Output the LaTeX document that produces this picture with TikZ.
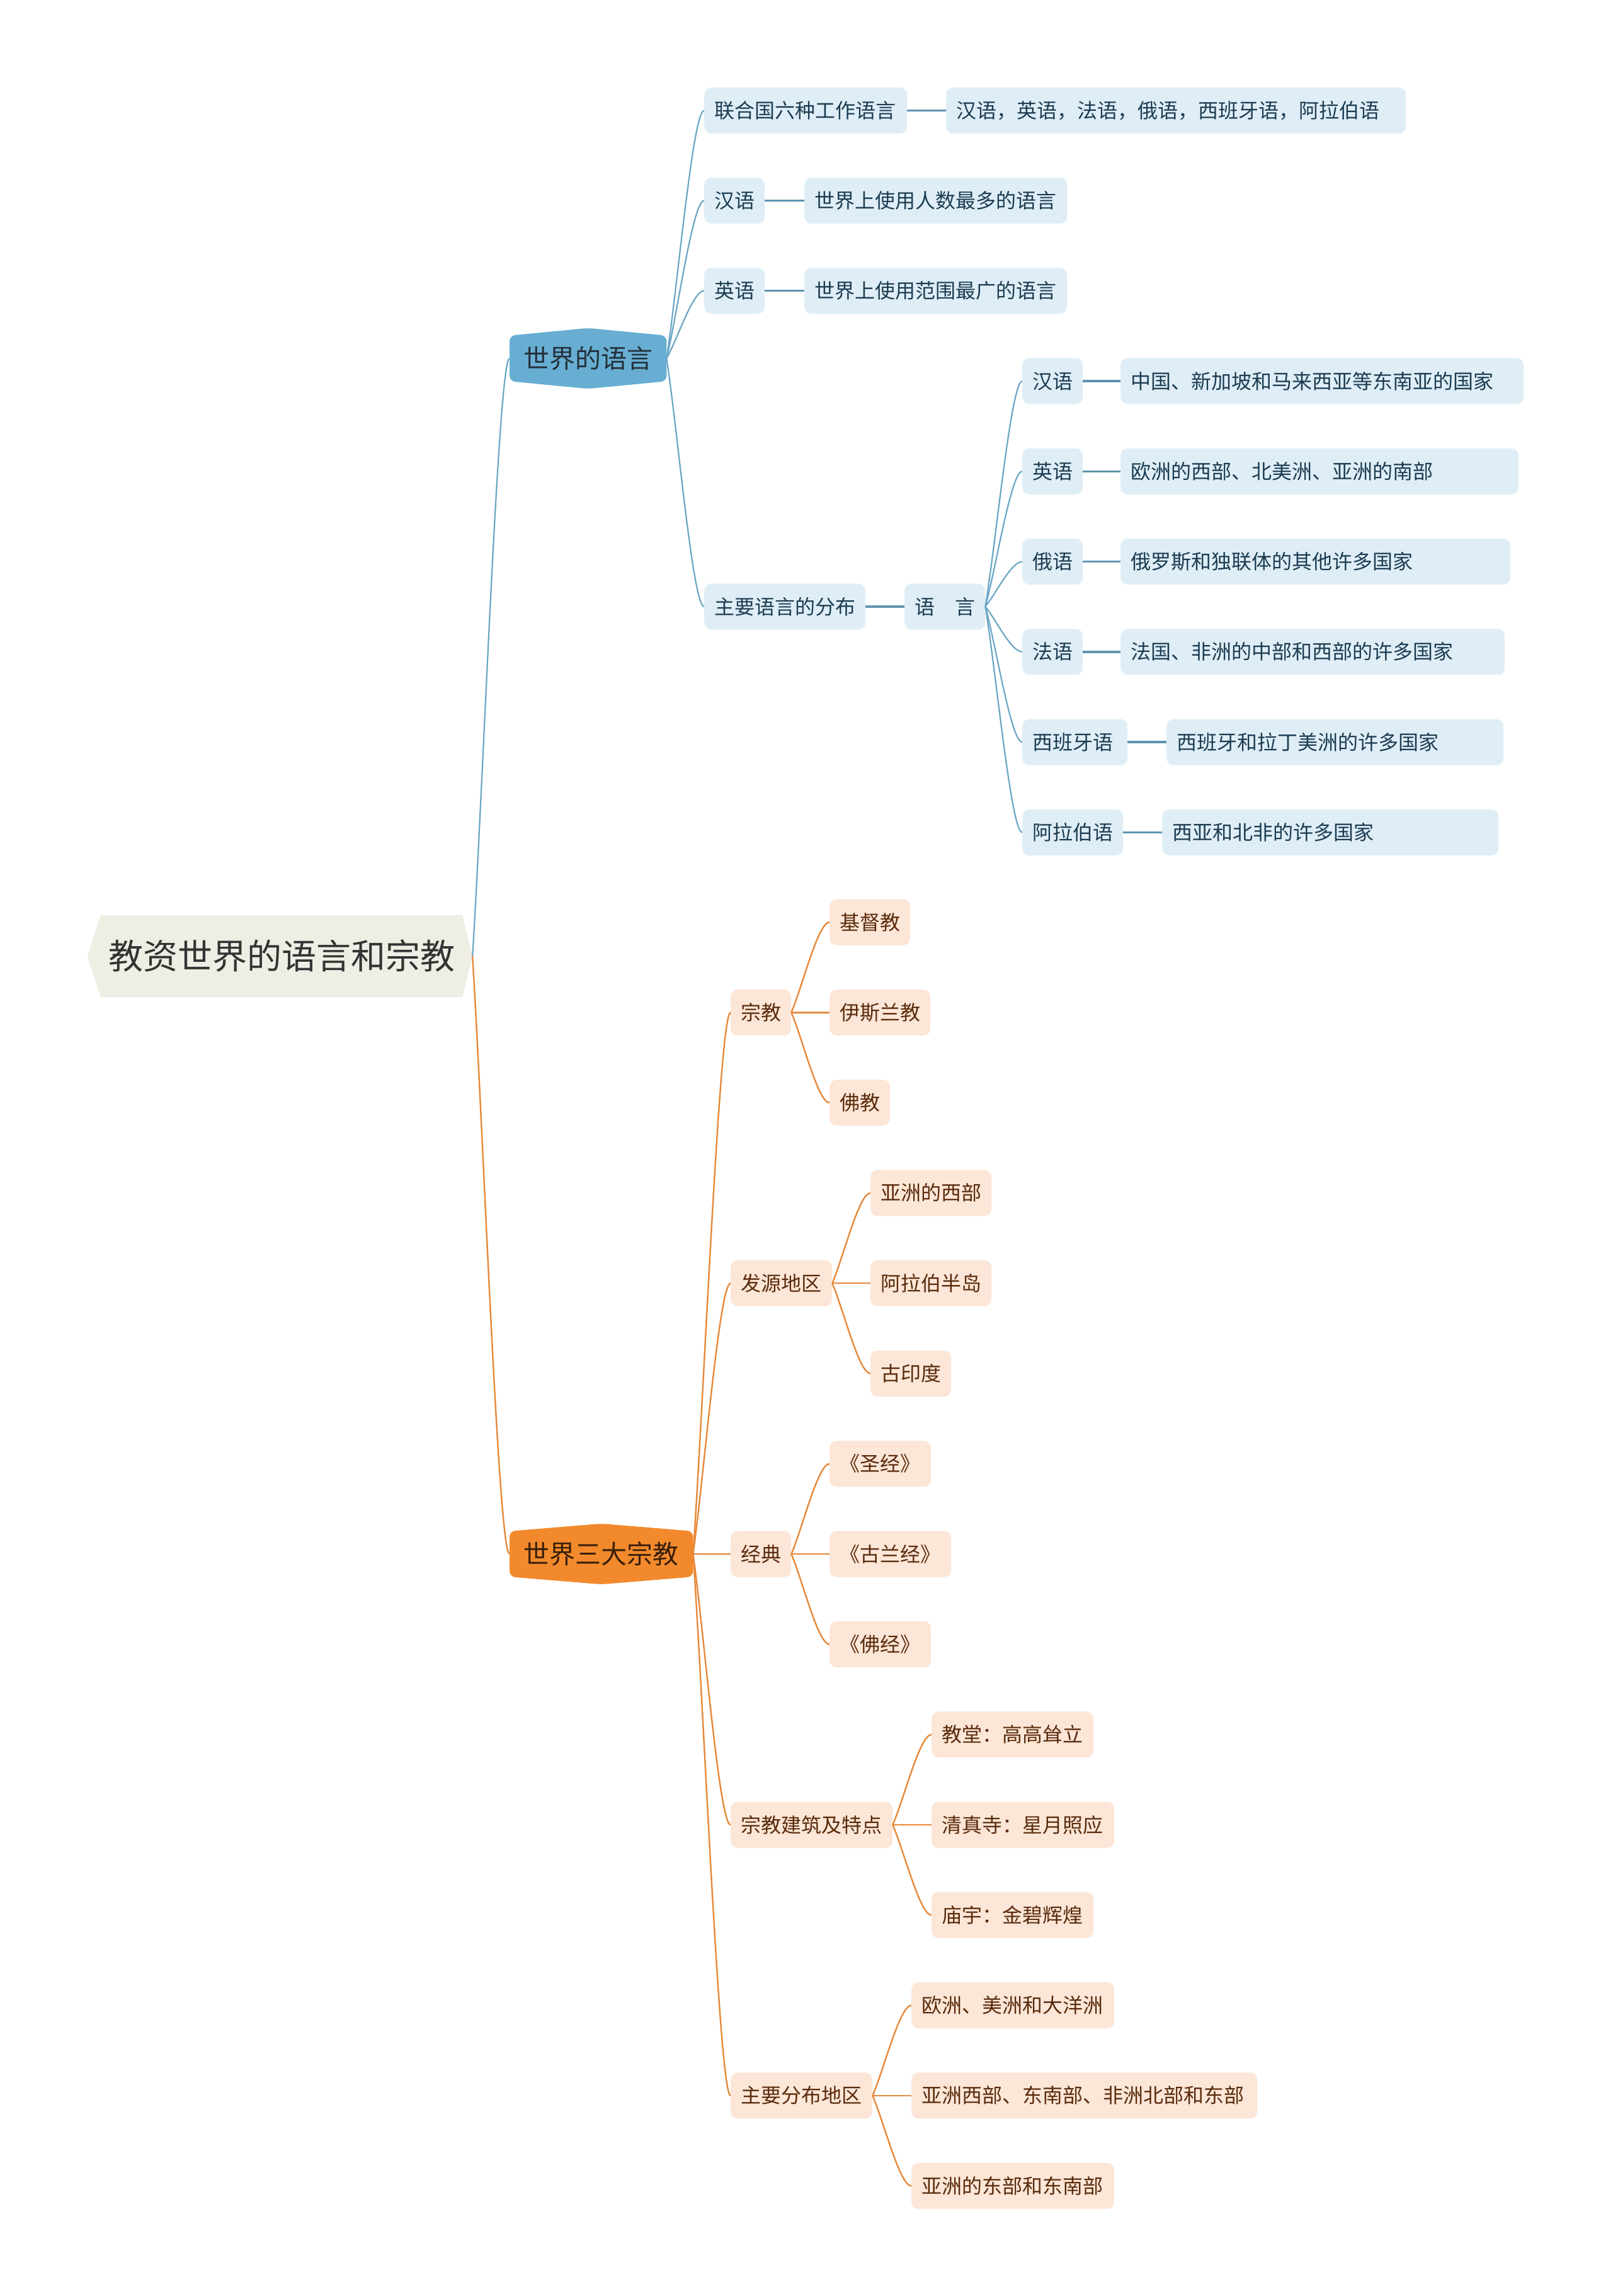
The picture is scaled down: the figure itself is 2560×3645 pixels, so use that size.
\documentclass[tikz,border=0pt]{standalone}
\usepackage{fontspec}
\newfontfamily\cjk{Noto Sans CJK SC}
\usetikzlibrary{calc,backgrounds}
\definecolor{rootfill}{HTML}{EEEEE4}
\definecolor{roottext}{HTML}{333333}
\definecolor{bmain}{HTML}{68AED3}
\definecolor{bline}{HTML}{6BA6C5}
\definecolor{bstr}{HTML}{5F94AF}
\definecolor{bfill}{HTML}{DFEEF6}
\definecolor{btext}{HTML}{1C3C52}
\definecolor{mtext}{HTML}{23303A}
\definecolor{omain}{HTML}{F28A2D}
\definecolor{omtext}{HTML}{3A1F08}
\definecolor{oline}{HTML}{E6893A}
\definecolor{ofill}{HTML}{FCE6D7}
\definecolor{otext}{HTML}{5A2B0C}
\newcommand\bw[2]{\makebox[#1pt][l]{#2}}
\newcommand\fan[3]{\draw[#1] let \p1=(#2), \p2=(#3) in (\p1) .. controls ({\x1+0.3*(\x2-\x1)},{\y1+0.3*(\y2-\y1)}) and ({\x2-0.3*(\x2-\x1)},\y2) .. (\p2);}
\tikzset{
  leaf/.style={anchor=west, rounded corners=11pt, minimum height=73pt, inner xsep=16pt, inner ysep=0pt,
    text height=28pt, text depth=4pt, font=\cjk\fontsize{32}{38}\selectfont},
  lb/.style={leaf, fill=bfill, text=btext},
  lo/.style={leaf, fill=ofill, text=otext},
  mainnode/.style={anchor=west, minimum height=72pt, inner sep=0pt, text height=36pt, text depth=5pt,
    font=\cjk\fontsize{41}{48}\selectfont},
  rootn/.style={minimum width=574pt, minimum height=130pt, inner sep=0pt, text height=48pt, text depth=7pt,
    font=\cjk\fontsize{55}{64}\selectfont, text=roottext},
  bl/.style={draw=bline, line width=2.2pt},
  bs/.style={draw=bstr, line width=3.5pt},
  ol/.style={draw=oline, line width=2.4pt},
}
\begin{document}
\begin{tikzpicture}[x=1pt,y=-1pt]
\useasboundingbox (0,0) rectangle (2560,3645);
\begin{pgfonlayer}{background}
\fill[white] (0,0) rectangle (2560,3645);
\end{pgfonlayer}

% root
\node[rootn] (root) at (447,1518) {教资世界的语言和宗教};
\coordinate (roottip) at ($(root.east)+(16pt,0pt)$);
\coordinate (rootleft) at ($(root.west)+(-21pt,0pt)$);

% main nodes
\node[mainnode, minimum width=249pt, text=mtext] (lang) at (809,569) {世界的语言};
\node[mainnode, minimum width=291pt, text=omtext] (rel) at (809,2467) {世界三大宗教};

% blue branch
\node[lb] (n11) at (1118,175.5) {\bw{290}{联合国六种工作语言}};
\node[lb] (n12) at (1502,175.5) {\bw{698}{汉语，英语，法语，俄语，西班牙语，阿拉伯语}};
\node[lb] (n21) at (1118,318.5) {\bw{64}{汉语}};
\node[lb] (n22) at (1277,318.5) {\bw{385}{世界上使用人数最多的语言}};
\node[lb] (n31) at (1118,461.5) {\bw{64}{英语}};
\node[lb] (n32) at (1277,461.5) {\bw{385}{世界上使用范围最广的语言}};
\node[lb] (n41) at (1118,963) {\bw{224}{主要语言的分布}};
\node[lb] (n42) at (1436,963) {\bw{96}{语　言}};

\node[lb] (d1) at (1623,605) {\bw{64}{汉语}};
\node[lb] (d1d) at (1779,605) {\bw{608}{中国、新加坡和马来西亚等东南亚的国家}};
\node[lb] (d2) at (1623,748.3) {\bw{64}{英语}};
\node[lb] (d2d) at (1779,748.3) {\bw{600}{欧洲的西部、北美洲、亚洲的南部}};
\node[lb] (d3) at (1623,891.6) {\bw{64}{俄语}};
\node[lb] (d3d) at (1779,891.6) {\bw{587}{俄罗斯和独联体的其他许多国家}};
\node[lb] (d4) at (1623,1034.9) {\bw{64}{法语}};
\node[lb] (d4d) at (1779,1034.9) {\bw{578}{法国、非洲的中部和西部的许多国家}};
\node[lb] (d5) at (1623,1178.2) {\bw{135}{西班牙语}};
\node[lb] (d5d) at (1852,1178.2) {\bw{503}{西班牙和拉丁美洲的许多国家}};
\node[lb] (d6) at (1623,1321.5) {\bw{128}{阿拉伯语}};
\node[lb] (d6d) at (1845,1321.5) {\bw{502}{西亚和北非的许多国家}};

% orange branch
\node[lo] (zj) at (1160,1607.3) {\bw{64}{宗教}};
\node[lo] (jdj) at (1317,1464) {\bw{96}{基督教}};
\node[lo] (yslj) at (1317,1607.3) {\bw{128}{伊斯兰教}};
\node[lo] (fj) at (1317,1750.6) {\bw{64}{佛教}};

\node[lo] (fy) at (1160,2037.2) {\bw{129}{发源地区}};
\node[lo] (yzxbu) at (1382,1893.9) {\bw{160}{亚洲的西部}};
\node[lo] (albbd) at (1382,2037.2) {\bw{160}{阿拉伯半岛}};
\node[lo] (gyd) at (1382,2180.5) {\bw{96}{古印度}};

\node[lo] (jd) at (1160,2467.1) {\bw{64}{经典}};
\node[lo] (sj) at (1317,2323.8) {\bw{129}{《圣经》}};
\node[lo] (glj) at (1317,2467.1) {\bw{161}{《古兰经》}};
\node[lo] (fjing) at (1317,2610.4) {\bw{129}{《佛经》}};

\node[lo] (jz) at (1160,2897) {\bw{225}{宗教建筑及特点}};
\node[lo] (jt) at (1479,2753.7) {\bw{225}{教堂：高高耸立}};
\node[lo] (qzs) at (1479,2897) {\bw{258}{清真寺：星月照应}};
\node[lo] (my) at (1479,3040.3) {\bw{225}{庙宇：金碧辉煌}};

\node[lo] (fb) at (1160,3326.9) {\bw{193}{主要分布地区}};
\node[lo] (oz) at (1447,3183.6) {\bw{290}{欧洲、美洲和大洋洲}};
\node[lo] (yzxb) at (1447,3326.9) {\bw{517}{亚洲西部、东南部、非洲北部和东部}};
\node[lo] (yzdb) at (1447,3470.2) {\bw{290}{亚洲的东部和东南部}};

% shapes behind text
\begin{pgfonlayer}{background}
\fill[rootfill] (rootleft) -- (root.north west) -- (root.north east) -- (roottip) -- (root.south east) -- (root.south west) -- cycle;
\fill[bmain, rounded corners=9pt] (lang.south west) -- (lang.north west) -- ($(lang.north)+(0pt,12pt)$) -- (lang.north east) -- (lang.south east) -- ($(lang.south)+(0pt,-12pt)$) -- cycle;
\fill[omain, rounded corners=9pt] (rel.south west) -- (rel.north west) -- ($(rel.north)+(0pt,12pt)$) -- (rel.north east) -- (rel.south east) -- ($(rel.south)+(0pt,-12pt)$) -- cycle;
\end{pgfonlayer}

% connectors: root
\fan{bl}{roottip}{lang.west}
\fan{ol}{roottip}{rel.west}

% blue fans
\fan{bl}{lang.east}{n11.west}
\fan{bl}{lang.east}{n21.west}
\fan{bl}{lang.east}{n31.west}
\fan{bl}{lang.east}{n41.west}
\draw[bs] (n11.east) -- (n12.west);
\draw[bs] (n21.east) -- (n22.west);
\draw[bs] (n31.east) -- (n32.west);
\draw[bs] (n41.east) -- (n42.west);
\fan{bl}{n42.east}{d1.west}
\fan{bl}{n42.east}{d2.west}
\fan{bl}{n42.east}{d3.west}
\fan{bl}{n42.east}{d4.west}
\fan{bl}{n42.east}{d5.west}
\fan{bl}{n42.east}{d6.west}
\draw[bs] (d1.east) -- (d1d.west);
\draw[bs] (d2.east) -- (d2d.west);
\draw[bs] (d3.east) -- (d3d.west);
\draw[bs] (d4.east) -- (d4d.west);
\draw[bs] (d5.east) -- (d5d.west);
\draw[bs] (d6.east) -- (d6d.west);

% orange fans
\fan{ol}{rel.east}{zj.west}
\fan{ol}{rel.east}{fy.west}
\fan{ol}{rel.east}{jd.west}
\fan{ol}{rel.east}{jz.west}
\fan{ol}{rel.east}{fb.west}
\fan{ol}{zj.east}{jdj.west}
\fan{ol}{zj.east}{yslj.west}
\fan{ol}{zj.east}{fj.west}
\fan{ol}{fy.east}{yzxbu.west}
\fan{ol}{fy.east}{albbd.west}
\fan{ol}{fy.east}{gyd.west}
\fan{ol}{jd.east}{sj.west}
\fan{ol}{jd.east}{glj.west}
\fan{ol}{jd.east}{fjing.west}
\fan{ol}{jz.east}{jt.west}
\fan{ol}{jz.east}{qzs.west}
\fan{ol}{jz.east}{my.west}
\fan{ol}{fb.east}{oz.west}
\fan{ol}{fb.east}{yzxb.west}
\fan{ol}{fb.east}{yzdb.west}
\end{tikzpicture}
\end{document}
